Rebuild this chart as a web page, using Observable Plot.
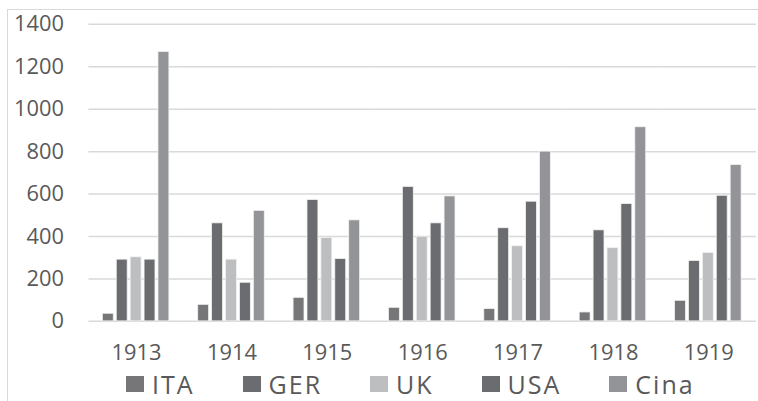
<!DOCTYPE html>
<html>
<head>
<meta charset="utf-8">
<script src="https://cdn.jsdelivr.net/npm/d3@7"></script>
<script src="https://cdn.jsdelivr.net/npm/@observablehq/plot@0.6"></script>
<style>
  html, body { margin: 0; padding: 0; background: #fff; overflow: hidden; }
  #wrap { position: relative; width: 758px; height: 401px; overflow: hidden; font-family: "Open Sans", sans-serif; }
  #frame { position: absolute; left: 7px; top: 9px; width: 800px; height: 420px; border-top: 1.5px solid #d9d9d9; border-left: 1.5px solid #d9d9d9; box-sizing: border-box; }
  #chart { position: absolute; left: 0; top: 0; }
  #legend { position: absolute; left: 126px; top: 371px; display: flex; gap: 48px; align-items: center; height: 26px; }
  .item { display: flex; align-items: center; gap: 8px; font-size: 25px; line-height: 1; letter-spacing: 2px; color: #595959; }
  .sw { width: 18px; height: 16px; display: inline-block; }
</style>
</head>
<body>
<div id="wrap">
  <div id="frame"></div>
  <div id="chart"></div>
  <div id="legend"></div>
</div>
<script>
const years = ["1913", "1914", "1915", "1916", "1917", "1918", "1919"];
const countries = ["ITA", "GER", "UK", "USA", "Cina"];
const colors = ["#767679", "#6b6c70", "#bdbec0", "#6b6c70", "#939497"];
const ITA  = [36, 78, 111, 64, 58, 42, 97];
const GER  = [291, 462, 572, 634, 439, 429, 285];
const UK   = [302, 291, 393, 399, 354, 345, 323];
const USA  = [291, 182, 294, 462, 564, 553, 592];
const Cina = [1270, 521, 476, 589, 800, 915, 737];
const yTicks = [0, 200, 400, 600, 800, 1000, 1200, 1400];

const series = {ITA, GER, UK, USA, Cina};
const data = [];
years.forEach((yr, i) => countries.forEach(c => data.push({year: yr, country: c, value: series[c][i]})));

const chart = Plot.plot({
  width: 763,
  height: 372,
  marginLeft: 87,
  marginRight: 0,
  marginTop: 24,
  marginBottom: 49,
  style: {fontFamily: "Open Sans, sans-serif", color: "#595959", background: "transparent"},
  fx: {domain: years, padding: 0, label: null, axis: null},
  x: {domain: countries, paddingInner: 0.2, paddingOuter: 0.82, axis: null},
  y: {domain: [0, 1400], ticks: yTicks, label: null, axis: null},
  color: {domain: countries, range: colors},
  marks: [
    Plot.gridY(yTicks, {stroke: "#d9d9d9", strokeOpacity: 1, strokeWidth: 1.5}),
    Plot.barY(data, {fx: "year", x: "country", y: "value", fill: "country", stroke: "#f2f2f2", strokeWidth: 0.8}),
    Plot.axisY(yTicks, {anchor: "left", tickSize: 0, tickPadding: 25, fontSize: 22, fill: "#595959", label: null, tickFormat: d => String(d)}),
    Plot.axisFx({anchor: "bottom", tickSize: 0, tickPadding: 23, fontSize: 22, fill: "#595959", label: null})
  ]
});
document.getElementById("chart").appendChild(chart);

const legend = document.getElementById("legend");
countries.forEach((c, i) => {
  const it = document.createElement("div");
  it.className = "item";
  const sw = document.createElement("span");
  sw.className = "sw";
  sw.style.background = colors[i];
  const t = document.createElement("span");
  t.textContent = c;
  it.appendChild(sw);
  it.appendChild(t);
  legend.appendChild(it);
});
</script>
</body>
</html>
